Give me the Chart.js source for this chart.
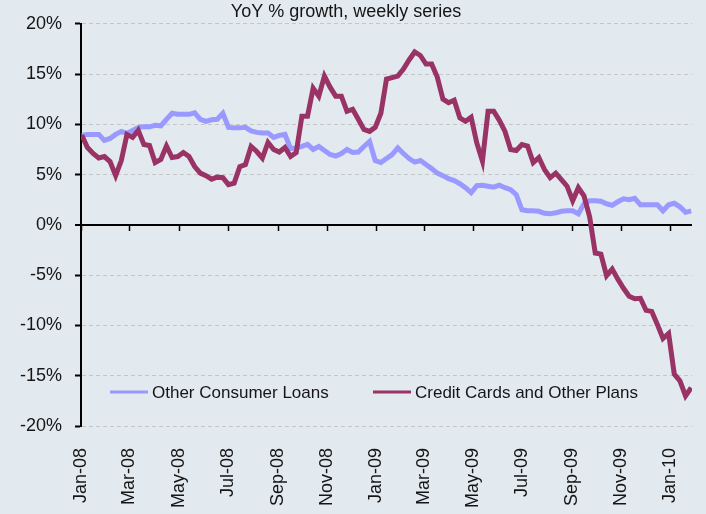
<!DOCTYPE html>
<html>
<head>
<meta charset="utf-8">
<script src="https://cdn.jsdelivr.net/npm/chart.js@4.4.1/dist/chart.umd.min.js"></script>
<style>
    html, body { margin: 0; padding: 0; background: #e2e9ef; }
    canvas { display: block; }
</style>
</head>
<body>
<canvas id="growthChart" width="706" height="514"></canvas>
<script>
// Weekly YoY % growth, first reading on Wed 2 Jan 2008, one value per week
const firstWeek = '2008-01-02';

const otherConsumerLoans = [
    8.9, 9.0, 9.0, 9.0, 8.4, 8.6, 9.0, 9.3, 9.1, 9.4,
    9.7, 9.75, 9.75, 9.9, 9.85, 10.5, 11.1, 11.0, 11.0, 11.0,
    11.15, 10.5, 10.3, 10.45, 10.5, 11.1, 9.7, 9.65, 9.65, 9.7,
    9.35, 9.2, 9.15, 9.15, 8.7, 8.9, 9.0, 7.6, 7.65, 7.8,
    8.0, 7.5, 7.8, 7.4, 7.0, 6.85, 7.1, 7.5, 7.2, 7.25,
    7.8, 8.3, 6.4, 6.2, 6.6, 7.0, 7.65, 7.1, 6.6, 6.25,
    6.4, 6.0, 5.6, 5.15, 4.9, 4.6, 4.4, 4.1, 3.7, 3.2,
    3.9, 3.95, 3.85, 3.75, 3.95, 3.7, 3.5, 3.0, 1.5, 1.4,
    1.4, 1.35, 1.15, 1.1, 1.2, 1.35, 1.4, 1.4, 1.1, 2.1,
    2.4, 2.4, 2.35, 2.1, 1.95, 2.3, 2.6, 2.5, 2.65, 2.0,
    2.0, 2.0, 2.0, 1.4, 2.0, 2.15, 1.8, 1.25, 1.4
];

const creditCards = [
    8.9, 7.7, 7.1, 6.65, 6.8, 6.3, 4.9, 6.4, 9.0, 8.7,
    9.4, 8.0, 7.9, 6.2, 6.5, 7.85, 6.7, 6.8, 7.2, 6.8,
    5.8, 5.15, 4.9, 4.55, 4.75, 4.7, 4.0, 4.15, 5.8, 6.0,
    7.8, 7.3, 6.65, 8.2, 7.5, 7.25, 7.7, 6.8, 7.2, 10.8,
    10.8, 13.6, 12.8, 14.8, 13.7, 12.8, 12.8, 11.3, 11.5, 10.5,
    9.5, 9.3, 9.7, 11.1, 14.5, 14.65, 14.8, 15.5, 16.4, 17.2,
    16.85, 16.0, 16.0, 14.7, 12.5, 12.15, 12.4, 10.65, 10.3, 10.7,
    8.15, 6.35, 11.3, 11.3, 10.4, 9.3, 7.5, 7.4, 8.0, 7.85,
    6.2, 6.7, 5.5, 4.7, 5.15, 4.5, 3.85, 2.4, 3.7, 2.9,
    0.8, -2.8, -2.9, -5.05, -4.4, -5.4, -6.3, -7.1, -7.35, -7.3,
    -8.5, -8.6, -9.9, -11.3, -10.8, -14.85, -15.5, -17.0, -16.2
];

const tickDates = ['2008-01-01', '2008-03-01', '2008-05-01', '2008-07-01', '2008-09-01', '2008-11-01',
    '2009-01-01', '2009-03-01', '2009-05-01', '2009-07-01', '2009-09-01', '2009-11-01', '2010-01-01'];
const tickLabels = ['Jan-08', 'Mar-08', 'May-08', 'Jul-08', 'Sep-08', 'Nov-08',
    'Jan-09', 'Mar-09', 'May-09', 'Jul-09', 'Sep-09', 'Nov-09', 'Jan-10'];

const seriesNames = ['Other Consumer Loans', 'Credit Cards and Other Plans'];
const titleText = 'YoY % growth, weekly series';

// x axis is days since the first tick date
const DAY = 86400000;
const origin = Date.parse(tickDates[0]);
const toDays = (iso) => (Date.parse(iso) - origin) / DAY;
const weekDay0 = toDays(firstWeek);
const toPoints = (values) => values.map((v, i) => ({ x: weekDay0 + 7 * i, y: v }));
const tickDays = tickDates.map(toDays);
const lastDay = weekDay0 + 7 * (creditCards.length - 1) + 1;

const FONT = "'Liberation Sans', Arial, sans-serif";
const TEXT = '#151515';

const backgroundPlugin = {
    id: 'bg',
    beforeDraw(chart) {
        const ctx = chart.ctx;
        ctx.save();
        ctx.fillStyle = '#e2e9ef';
        ctx.fillRect(0, 0, chart.width, chart.height);
        ctx.restore();
    }
};

// small tick marks hanging below the 0% line
const zeroTicksPlugin = {
    id: 'zeroTicks',
    beforeDatasetsDraw(chart) {
        const { ctx, scales: { x, y } } = chart;
        const y0 = y.getPixelForValue(0);
        ctx.save();
        ctx.strokeStyle = '#000';
        ctx.lineWidth = 1.5;
        ctx.beginPath();
        x.ticks.forEach(t => {
            const px = Math.round(x.getPixelForValue(t.value)) + 0.5;
            ctx.moveTo(px, y0);
            ctx.lineTo(px, y0 + 6);
        });
        ctx.stroke();
        ctx.restore();
    }
};

// legend sits inside the plot, near the bottom
const innerLegendPlugin = {
    id: 'innerLegend',
    afterDraw(chart) {
        const ctx = chart.ctx;
        const spots = [{ x: 110, y: 392 }, { x: 373, y: 392 }];
        ctx.save();
        ctx.font = '17px ' + FONT;
        ctx.textBaseline = 'middle';
        ctx.fillStyle = TEXT;
        chart.data.datasets.forEach((ds, i) => {
            const s = spots[i];
            ctx.strokeStyle = ds.borderColor;
            ctx.lineWidth = 3;
            ctx.beginPath();
            ctx.moveTo(s.x, s.y);
            ctx.lineTo(s.x + 38, s.y);
            ctx.stroke();
            ctx.fillText(ds.label, s.x + 42, s.y + 1);
        });
        ctx.restore();
    }
};

const config = {
    type: 'line',
    data: {
        datasets: [
            {
                label: seriesNames[0],
                data: toPoints(otherConsumerLoans),
                borderColor: '#9999ff',
                borderWidth: 5,
                pointRadius: 0,
                tension: 0,
                order: 1,
            },
            {
                label: seriesNames[1],
                data: toPoints(creditCards),
                borderColor: '#993366',
                borderWidth: 5,
                pointRadius: 0,
                tension: 0,
                order: 0,
            }
        ]
    },
    options: {
        responsive: false,
        animation: false,
        layout: { padding: { left: 0, right: 14, top: 0, bottom: 0 } },
        scales: {
            x: {
                type: 'linear',
                min: 0,
                max: lastDay,
                border: { display: false },
                grid: { drawOnChartArea: false, drawTicks: false },
                afterBuildTicks: (scale) => {
                    scale.ticks = tickDays.map(v => ({ value: v }));
                },
                afterFit: (scale) => {
                    scale.height = 88;
                    scale.paddingLeft = 0;
                    scale.paddingRight = 0;
                },
                ticks: {
                    autoSkip: false,
                    maxRotation: 90,
                    minRotation: 90,
                    padding: 22,
                    color: TEXT,
                    font: { family: FONT, size: 18 },
                    callback: (value, index) => tickLabels[index],
                }
            },
            y: {
                min: -20,
                max: 20,
                afterFit: (scale) => { scale.width = 81; },
                border: {
                    display: true,
                    color: '#000',
                    width: 2,
                    dash: (ctx) => (ctx.tick && ctx.tick.value === 0 ? [] : [4, 3]),
                },
                grid: {
                    color: (ctx) => (ctx.tick && ctx.tick.value === 0 ? '#000' : '#c4c6c8'),
                    lineWidth: (ctx) => (ctx.tick && ctx.tick.value === 0 ? 2 : 1),
                    tickColor: '#000',
                    tickLength: 6,
                    tickWidth: 2,
                },
                ticks: {
                    stepSize: 5,
                    padding: 13,
                    color: TEXT,
                    font: { family: FONT, size: 18 },
                    callback: (value) => value + '%',
                }
            }
        },
        plugins: {
            legend: { display: false },
            tooltip: { enabled: false },
            title: {
                display: true,
                text: titleText,
                color: TEXT,
                font: { family: FONT, size: 18, weight: 'normal' },
                padding: { top: 0, bottom: 1 },
            }
        }
    },
    plugins: [backgroundPlugin, zeroTicksPlugin, innerLegendPlugin]
};

new Chart(document.getElementById('growthChart').getContext('2d'), config);
</script>
</body>
</html>
